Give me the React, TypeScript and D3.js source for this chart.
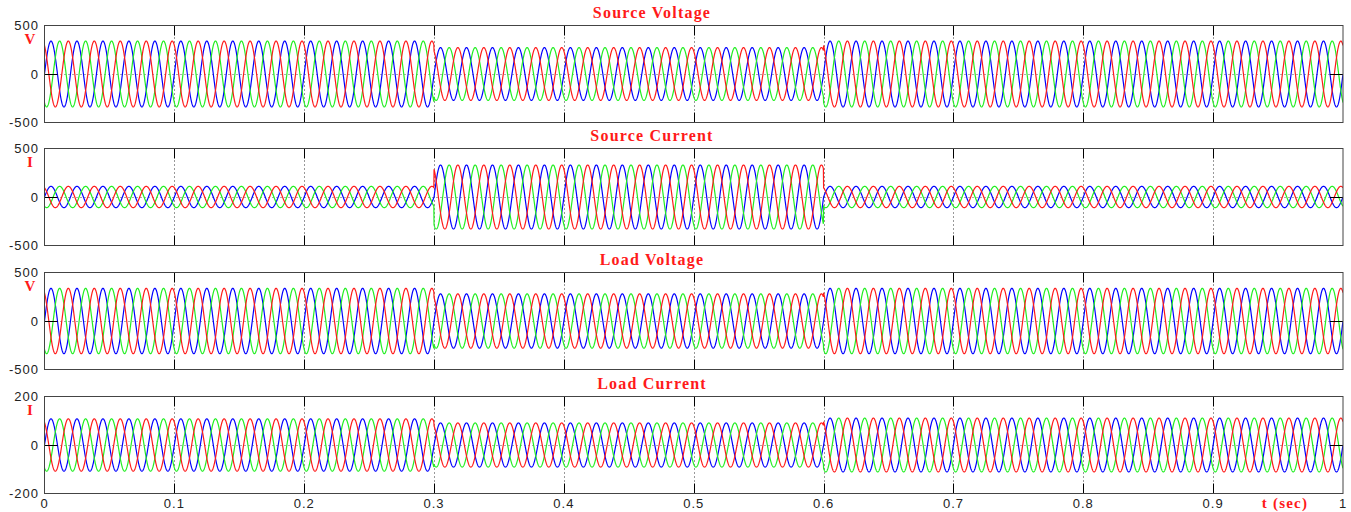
import React from "react";
import * as d3 from "d3";

// ---- data ----
const timeTicks = [0, 0.1, 0.2, 0.3, 0.4, 0.5, 0.6, 0.7, 0.8, 0.9, 1];
const timeTickLabels = ["0", "0.1", "0.2", "0.3", "0.4", "0.5", "0.6", "0.7", "0.8", "0.9", "1"];
const frequencyHz = 50;
const segmentBreaks = [0, 0.3, 0.6, 1.0];
const panelTitles = ["Source Voltage", "Source Current", "Load Voltage", "Load Current"];
const panelUnits = ["V", "I", "V", "I"];
const panelYMax = [500, 500, 500, 200];
const sourceVoltageAmp = [340, 272, 340];
const sourceCurrentAmp = [110, 330, 110];
const loadVoltageAmp = [337, 280, 337];
const loadCurrentAmp = [108, 91, 111];
const phaseNames = ["a", "b", "c"];
const phaseShiftDeg = [0, -120, 120];
const phaseColors = ["#0000ff", "#22ee22", "#ff1a1a"];

const panelAmps = [sourceVoltageAmp, sourceCurrentAmp, loadVoltageAmp, loadCurrentAmp];

// ---- layout ----
const W = 1351;
const H = 512;
const left = 44.5;
const right = 1343;
const panelTops = [25.5, 148.5, 272.5, 396.5];
const panelHeight = 97;

const x = d3.scaleLinear().domain([0, 1]).range([left, right]);

function ampAt(amps: number[], t: number) {
  for (let i = 0; i < segmentBreaks.length - 1; i++) {
    if (t < segmentBreaks[i + 1]) return amps[i];
  }
  return amps[amps.length - 1];
}

const nSamples = 6000;
const sampleTimes = d3.range(nSamples + 1).map((i) => i / nSamples);

function Panel({ idx }: { idx: number }) {
  const top = panelTops[idx];
  const ymax = panelYMax[idx];
  const y = d3.scaleLinear().domain([-ymax, ymax]).range([top + panelHeight, top]);
  const amps = panelAmps[idx];
  const clipId = `clip${idx}`;
  const y0 = Math.round(y(0)) + 0.5;
  return (
    <g>
      <defs>
        <clipPath id={clipId}>
          <rect x={left} y={top} width={right - left} height={panelHeight} />
        </clipPath>
      </defs>
      {/* grid */}
      {timeTicks.slice(1, -1).map((t, i) => (
        <line
          key={"g" + i}
          x1={Math.round(x(t)) + 0.5}
          x2={Math.round(x(t)) + 0.5}
          y1={top}
          y2={top + panelHeight}
          stroke="#333"
          strokeWidth={1}
          strokeDasharray="1,3"
        />
      ))}
      <line x1={left} x2={right} y1={y0} y2={y0} stroke="#555" strokeWidth={1} strokeDasharray="1,3" />
      {/* waveforms */}
      <g clipPath={`url(#${clipId})`}>
        {phaseNames.map((p, k) => {
          const ph = (phaseShiftDeg[k] * Math.PI) / 180;
          const pts = sampleTimes.map(
            (t) => [t, ampAt(amps, t) * Math.sin(2 * Math.PI * frequencyHz * t + ph)] as [number, number]
          );
          const l = d3
            .line<[number, number]>()
            .x((d) => x(d[0]))
            .y((d) => y(d[1]));
          return <path key={p} d={l(pts) || ""} fill="none" stroke={phaseColors[k]} strokeWidth={1.2} />;
        })}
      </g>
      {/* ticks */}
      {timeTicks.slice(1, -1).map((t, i) => {
        const xx = Math.round(x(t)) + 0.5;
        return (
          <g key={"t" + i}>
            <line x1={xx} x2={xx} y1={top} y2={top + 10} stroke="#000" strokeWidth={1} />
            <line x1={xx} x2={xx} y1={top + panelHeight - 10} y2={top + panelHeight} stroke="#000" strokeWidth={1} />
          </g>
        );
      })}
      <line x1={left} x2={left + 13} y1={y0} y2={y0} stroke="#000" strokeWidth={1} />
      <line x1={right - 13} x2={right} y1={y0} y2={y0} stroke="#000" strokeWidth={1} />
      {/* frame */}
      <rect x={left} y={top} width={right - left} height={panelHeight} fill="none" stroke="#444" strokeWidth={1} />
      {/* y tick labels */}
      {[ymax, 0, -ymax].map((v, i) => (
        <text
          key={"yl" + i}
          x={39}
          y={y(v) + 4.5}
          textAnchor="end"
          fontFamily="Liberation Sans, Arial, sans-serif"
          fontSize={13}
          letterSpacing={1}
          fill="#222"
        >
          {v}
        </text>
      ))}
      <text
        x={30}
        y={top + 18.5}
        textAnchor="middle"
        fontFamily="Liberation Serif, Times New Roman, serif"
        fontWeight="bold"
        fontSize={15}
        fill="#ff1a1a"
      >
        {panelUnits[idx]}
      </text>
      <text
        x={652}
        y={top - 7.5}
        textAnchor="middle"
        fontFamily="Liberation Serif, Times New Roman, serif"
        fontWeight="bold"
        fontSize={16}
        letterSpacing={1.2}
        fill="#ff1a1a"
      >
        {panelTitles[idx]}
      </text>
    </g>
  );
}

export default function App() {
  return (
    <svg width={W} height={H} style={{ position: "absolute", left: 0, top: 0, background: "#fff" }}>
      <rect width={W} height={H} fill="#fff" />
      {panelTitles.map((_, i) => (
        <Panel key={i} idx={i} />
      ))}
      {timeTicks.map((t, i) => (
        <text
          key={"xl" + i}
          x={x(t)}
          y={508}
          textAnchor="middle"
          fontFamily="Liberation Sans, Arial, sans-serif"
          fontSize={13}
          letterSpacing={1}
          fill="#222"
        >
          {timeTickLabels[i]}
        </text>
      ))}
      <text
        x={1285}
        y={508}
        textAnchor="middle"
        fontFamily="Liberation Serif, Times New Roman, serif"
        fontWeight="bold"
        fontSize={15}
        letterSpacing={1.2}
        fill="#ff1a1a"
      >
        t (sec)
      </text>
    </svg>
  );
}
